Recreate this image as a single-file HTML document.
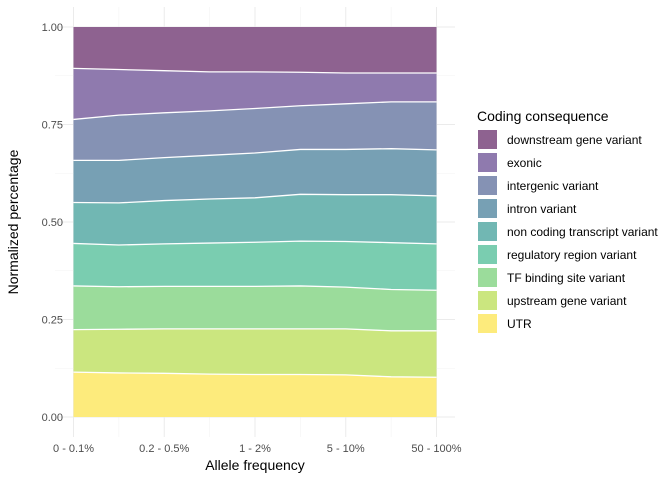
<!DOCTYPE html>
<html><head><meta charset="utf-8"><style>
body{margin:0;background:#fff;font-family:"Liberation Sans",sans-serif}
</style></head><body>
<svg id="chart" width="672" height="480" xmlns="http://www.w3.org/2000/svg" font-family="Liberation Sans, sans-serif">
<g id="grid"></g>
<g id="areas"></g>
<g id="axes"></g>
<text x="255" y="470" font-size="14" text-anchor="middle" fill="#000">Allele frequency</text>
<text transform="translate(18,222) rotate(-90)" font-size="14" text-anchor="middle" fill="#000">Normalized percentage</text>
<g id="legend">
<text x="477" y="121" font-size="14" fill="#000">Coding consequence</text>
</g>
</svg>
<script>
const xLabels=["0 - 0.1%","0.2 - 0.5%","1 - 2%","5 - 10%","50 - 100%"];
const seriesNames=["downstream gene variant","exonic","intergenic variant","intron variant","non coding transcript variant","regulatory region variant","TF binding site variant","upstream gene variant","UTR"];
const downstream=[.106,.109,.112,.115,.115,.116,.118,.118,.118];
const exonic=[.131,.117,.108,.100,.094,.086,.079,.074,.074];
const intergenic=[.105,.116,.115,.114,.114,.112,.117,.120,.123];
const intron=[.108,.109,.110,.112,.115,.115,.116,.118,.118];
const noncoding=[.105,.108,.111,.113,.114,.120,.120,.123,.123];
const regulatory=[.109,.107,.109,.111,.113,.115,.117,.120,.119];
const tfbinding=[.112,.109,.109,.109,.109,.110,.107,.106,.104];
const upstream=[.109,.112,.114,.116,.117,.117,.118,.118,.119];
const utr=[.115,.113,.112,.110,.109,.109,.108,.103,.102];
const yTicks=[0,0.25,0.5,0.75,1];
const yTickLabels=["0.00","0.25","0.50","0.75","1.00"];
const colors=["#8e6290","#8f7aae","#8592b4","#77a0b4","#71b7b3","#7acdb0","#9bdc9b","#cbe67f","#fdeb7c"];
const series=[downstream,exonic,intergenic,intron,noncoding,regulatory,tfbinding,upstream,utr];
const NS="http://www.w3.org/2000/svg";
const nPts=utr.length;
const x0=73.5,x1=436.5,yTop=27,yBot=417;
const xs=i=>x0+(x1-x0)*i/(nPts-1);
const ys=v=>yBot-(yBot-yTop)*v;
function mk(t,a,p){const e=document.createElementNS(NS,t);for(const k in a)e.setAttribute(k,a[k]);p.appendChild(e);return e;}
const grid=document.getElementById('grid');
for(let i=0;i<nPts;i++){const l=mk('line',{x1:xs(i),x2:xs(i),y1:7,y2:437,stroke:i%2?'#f3f3f3':'#ebebeb','stroke-width':i%2?0.6:1},grid);

}
for(let v=0;v<=1.0001;v+=0.125){const major=Math.round(v*8)%2===0;const l=mk('line',{x1:55,x2:455,y1:ys(v),y2:ys(v),stroke:major?'#ebebeb':'#f3f3f3','stroke-width':major?1:0.6},grid);

}
const totals=[];for(let i=0;i<nPts;i++){let s=0;series.forEach(a=>s+=a[i]);totals.push(s);}
const areas=document.getElementById('areas');
let lower=new Array(nPts).fill(0);
const bounds=[];
for(let k=series.length-1;k>=0;k--){
 const upper=lower.map((b,i)=>b+series[k][i]/totals[i]);
 let d='M'+upper.map((v,i)=>xs(i)+','+ys(v)).join('L');
 for(let i=nPts-1;i>=0;i--)d+='L'+xs(i)+','+ys(lower[i]);
 d+='Z';
 const p=mk('path',{d:d,fill:colors[k]},areas);
 
 
 if(k>0)bounds.push(upper);
 lower=upper;
}
bounds.forEach(u=>{const l=mk('polyline',{points:u.map((v,i)=>xs(i)+','+ys(v)).join(' '),fill:'none',stroke:'#fff','stroke-width':1.3},areas);

});
const axes=document.getElementById('axes');
yTicks.forEach((v,i)=>{const t=mk('text',{x:63,y:ys(v)+4,'font-size':11,'text-anchor':'end',fill:'#4d4d4d'},axes);t.textContent=yTickLabels[i];

});
xLabels.forEach((s,i)=>{const t=mk('text',{x:xs(i*2),y:452,'font-size':11,'text-anchor':'middle',fill:'#4d4d4d'},axes);t.textContent=s;

});
const lg=document.getElementById('legend');
seriesNames.forEach((s,k)=>{const y=130+k*23;
 const r=mk('rect',{x:478,y:y,width:19,height:19,fill:colors[k]},lg);
 
 
 const t=mk('text',{x:507,y:y+14,'font-size':12,fill:'#000'},lg);t.textContent=s;
 
 });
</script>
</body></html>
